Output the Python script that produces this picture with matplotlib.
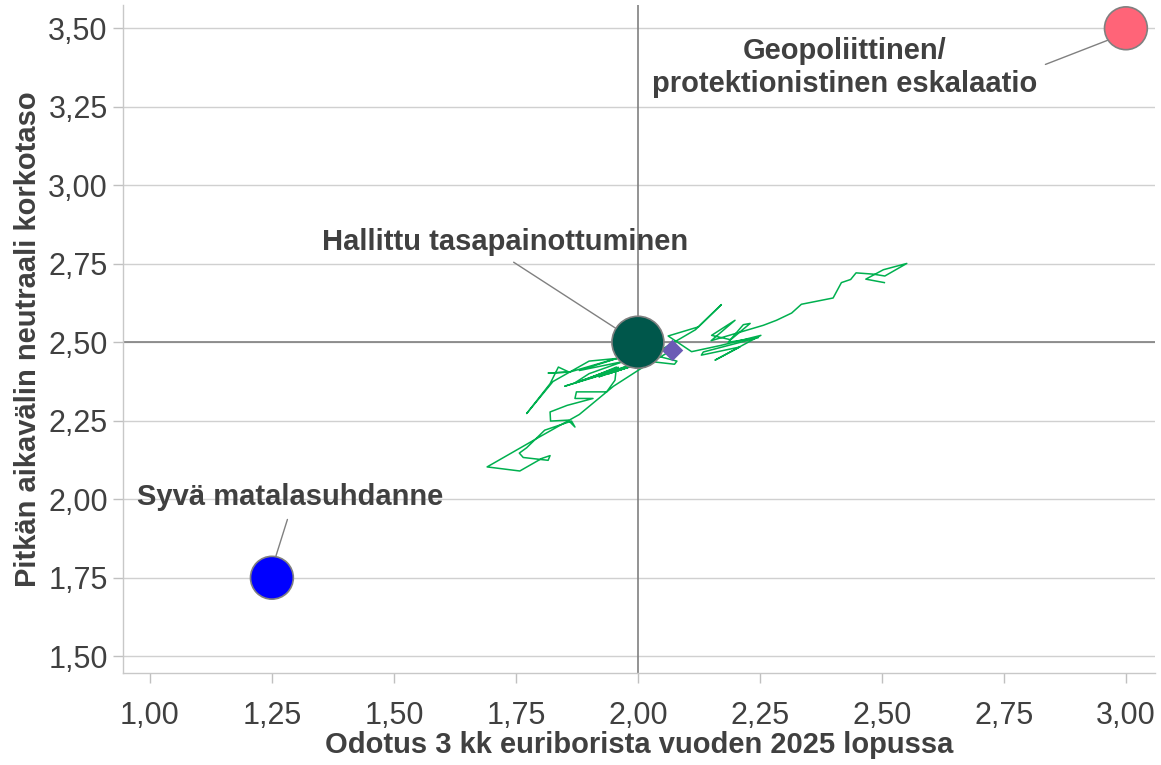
import matplotlib
matplotlib.use("Agg")
import matplotlib.pyplot as plt
from matplotlib.ticker import FuncFormatter, FixedLocator

plt.rcParams['font.family'] = ['Liberation Sans', 'DejaVu Sans']

# Scenario points
scen_names = ["Geopoliittinen/\nprotektionistinen eskalaatio", "Hallittu tasapainottuminen", "Syvä matalasuhdanne"]
scen_x = [3.00, 2.00, 1.25]
scen_y = [3.50, 2.50, 1.75]
scen_colors = ["#ff6478", "#00574b", "#0000ff"]
scen_sizes = [950, 1400, 950]

# Market expectation path
path_x = [2.505, 2.467, 2.503, 2.551, 2.506, 2.482, 2.447, 2.436, 2.417, 2.400,
          2.335, 2.315, 2.284, 2.257, 2.150, 2.199, 2.151, 2.190, 2.230, 2.216,
          2.185, 2.247, 2.134, 2.130, 2.209, 2.158, 2.252, 2.170, 2.110, 2.062,
          2.124, 2.171, 2.118, 2.030, 2.080, 2.075, 1.990, 1.880, 1.960, 1.860,
          1.816, 1.859, 1.837, 1.820, 1.772, 1.826, 1.900, 2.000, 1.900, 1.870,
          1.960, 1.890, 1.950, 1.850, 2.020, 1.940, 2.040, 1.920, 1.980, 1.900,
          1.956, 1.953, 1.936, 1.874,
          1.871, 1.908, 1.855, 1.820, 1.821, 1.857, 1.871, 1.864, 1.809, 1.772,
          1.757, 1.765, 1.816, 1.820, 1.803, 1.758, 1.691, 1.800, 1.880, 1.950,
          2.020, 2.070]
path_y = [2.690, 2.701, 2.731, 2.751, 2.711, 2.717, 2.721, 2.700, 2.690, 2.641,
          2.621, 2.593, 2.570, 2.554, 2.505, 2.570, 2.522, 2.508, 2.560, 2.556,
          2.500, 2.515, 2.469, 2.459, 2.485, 2.443, 2.522, 2.490, 2.470, 2.520,
          2.549, 2.620, 2.540, 2.460, 2.440, 2.430, 2.445, 2.410, 2.450, 2.405,
          2.402, 2.405, 2.421, 2.368, 2.273, 2.375, 2.440, 2.455, 2.400, 2.370,
          2.420, 2.380, 2.410, 2.360, 2.440, 2.400, 2.450, 2.390, 2.425, 2.385,
          2.421, 2.379, 2.342, 2.342,
          2.321, 2.321, 2.299, 2.278, 2.249, 2.252, 2.230, 2.249, 2.220, 2.164,
          2.147, 2.133, 2.124, 2.139, 2.130, 2.090, 2.103, 2.200, 2.270, 2.360,
          2.430, 2.475]

latest_x = [2.07]
latest_y = [2.475]

x_ticks = [1.00, 1.25, 1.50, 1.75, 2.00, 2.25, 2.50, 2.75, 3.00]
y_ticks = [1.50, 1.75, 2.00, 2.25, 2.50, 2.75, 3.00, 3.25, 3.50]

fig = plt.figure(figsize=(11.61, 7.65), dpi=100)
ax = fig.add_axes([0.106, 0.120, 0.889, 0.873])

ax.set_xlim(0.945, 3.06)
ax.set_ylim(1.446, 3.573)

for yt in y_ticks:
    ax.axhline(yt, color="#d0d0d0", lw=1.0, zorder=0)
ax.axvline(2.0, color="#808080", lw=1.2, zorder=1)
ax.axhline(2.5, color="#808080", lw=1.2, zorder=1)

ax.plot(path_x, path_y, color="#00b04f", lw=1.1, zorder=2)
ax.scatter(latest_x, latest_y, marker="D", s=120, color="#6b5bb5", zorder=3, linewidths=0)
ax.scatter(scen_x, scen_y, s=scen_sizes, c=scen_colors, edgecolors="#808080", linewidths=1.2, zorder=4)

txt_color = "#404040"
ann_kw = dict(fontsize=21, fontweight="bold", color=txt_color, ha="center", va="center")
line_kw = dict(arrowstyle="-", color="#808080", lw=1.0, shrinkA=4, shrinkB=0)

ax.annotate(scen_names[0], xy=(2.963, 3.462), xytext=(2.424, 3.375),
            textcoords="data", arrowprops=dict(**line_kw, relpos=(1.0, 0.5)), **ann_kw, linespacing=1.2)
ax.annotate(scen_names[1], xy=(1.967, 2.532), xytext=(1.727, 2.818),
            textcoords="data", arrowprops=dict(**line_kw, relpos=(0.5, 0.0)), **ann_kw)
ax.annotate(scen_names[2], xy=(1.258, 1.818), xytext=(1.287, 2.006),
            textcoords="data", arrowprops=dict(**line_kw, relpos=(0.5, 0.0)), **ann_kw)

fmt = FuncFormatter(lambda v, p: f"{v:.2f}".replace(".", ","))
ax.xaxis.set_major_locator(FixedLocator(x_ticks))
ax.yaxis.set_major_locator(FixedLocator(y_ticks))
ax.xaxis.set_major_formatter(fmt)
ax.yaxis.set_major_formatter(fmt)
ax.tick_params(axis="both", labelsize=22, colors="#c0c0c0", labelcolor=txt_color, length=7, width=1)
ax.tick_params(axis="x", pad=13)
ax.tick_params(axis="y", pad=4)

for s in ["top", "right"]:
    ax.spines[s].set_visible(False)
for s in ["left", "bottom"]:
    ax.spines[s].set_color("#c8c8c8")
    ax.spines[s].set_linewidth(1)

ax.set_xlabel("Odotus 3 kk euriborista vuoden 2025 lopussa", fontsize=21, fontweight="bold", color=txt_color, labelpad=0)
ax.set_ylabel("Pitkän aikavälin neutraali korkotaso", fontsize=21, fontweight="bold", color=txt_color, labelpad=4)

fig.savefig("out.png", dpi=100)
